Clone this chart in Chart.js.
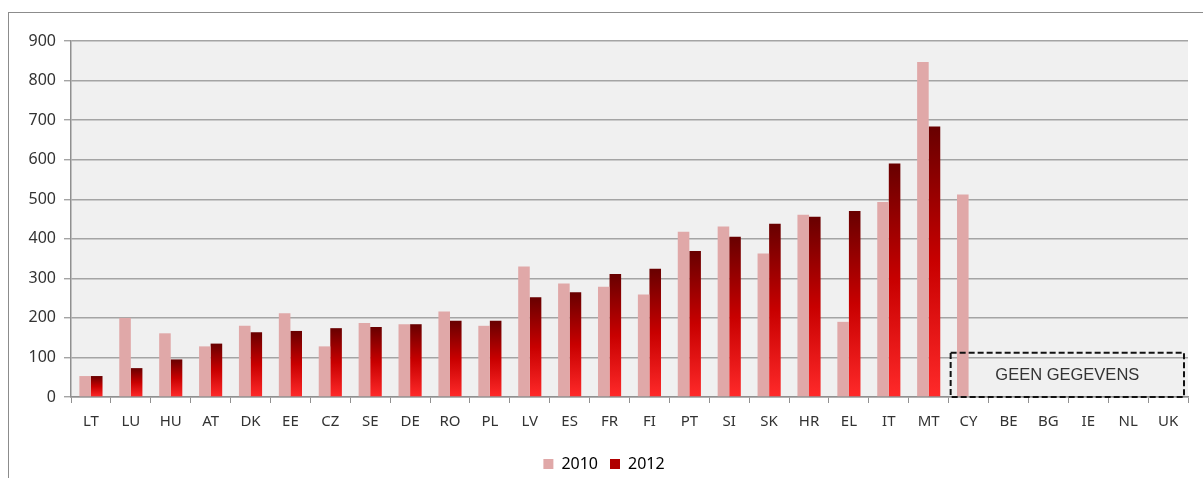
<!DOCTYPE html>
<html>
<head>
<meta charset="utf-8">
<script src="https://cdn.jsdelivr.net/npm/chart.js@4.4.1/dist/chart.umd.min.js"></script>
<style>
  html, body { margin: 0; padding: 0; background: #fff; }
  #wrap { position: relative; width: 1203px; height: 478px; }
  #frame { position: absolute; left: 8px; top: 12px; width: 1300px; height: 600px; border: 1px solid #8c8c8c; box-sizing: border-box; pointer-events: none; }
  canvas { position: absolute; left: 0; top: 0; }
</style>
</head>
<body>
<div id="wrap">
  <div id="frame"></div>
  <canvas id="chart" width="1203" height="478"></canvas>
</div>
<script>
// landen
const landen = ['LT', 'LU', 'HU', 'AT', 'DK', 'EE', 'CZ', 'SE', 'DE', 'RO', 'PL', 'LV', 'ES', 'FR',
    'FI', 'PT', 'SI', 'SK', 'HR', 'EL', 'IT', 'MT', 'CY', 'BE', 'BG', 'IE', 'NL', 'UK'];

const waarden2010 = [53, 200, 161, 128, 180, 212, 128, 187, 184, 216, 180, 330, 287, 279,
    259, 418, 431, 363, 461, 190, 493, 847, 512, null, null, null, null, null];
const waarden2012 = [53, 73, 95, 135, 164, 167, 174, 177, 184, 193, 193, 252, 265, 311,
    324, 369, 405, 438, 456, 470, 590, 684, null, null, null, null, null, null];

const yTicks = [0, 100, 200, 300, 400, 500, 600, 700, 800, 900];
const geenGegevensVanaf = 'CY';

const fontFam = '"Noto Sans", "Liberation Sans", sans-serif';

// verloop per staaf: donkerrood boven, helder rood onder
function barGradient(context) {
    const chart = context.chart;
    if (!chart.chartArea || context.raw == null) return '#c00000';
    const y = chart.scales.y;
    const top = y.getPixelForValue(context.raw);
    const bottom = y.getPixelForValue(0);
    if (!isFinite(top) || bottom - top < 1) return '#c00000';
    const g = chart.ctx.createLinearGradient(0, top, 0, bottom);
    g.addColorStop(0, '#680000');
    g.addColorStop(0.5, '#c80000');
    g.addColorStop(1, '#ff2a2a');
    return g;
}

// grijze achtergrond van het plotvlak
const plotBackground = {
    id: 'plotBackground',
    beforeDraw(chart) {
        const a = chart.chartArea;
        const ctx = chart.ctx;
        ctx.save();
        ctx.fillStyle = '#f0f0f0';
        ctx.fillRect(a.left, a.top, a.right - a.left, a.bottom - a.top);
        ctx.restore();
    }
};

// kader "GEEN GEGEVENS"
const geenGegevens = {
    id: 'geenGegevens',
    afterDatasetsDraw(chart) {
        const x = chart.scales.x;
        const y = chart.scales.y;
        const ctx = chart.ctx;
        const idx = landen.indexOf(geenGegevensVanaf);
        const half = (x.getPixelForValue(1) - x.getPixelForValue(0)) / 2;
        const left = x.getPixelForValue(idx) - half + 2;
        const right = chart.chartArea.right - 4;
        const top = y.getPixelForValue(112);
        const bottom = y.getPixelForValue(0);
        ctx.save();
        ctx.strokeStyle = '#111';
        ctx.lineWidth = 2;
        ctx.setLineDash([6, 3]);
        ctx.strokeRect(left, top, right - left, bottom - top);
        ctx.setLineDash([]);
        ctx.fillStyle = '#333';
        ctx.font = '16.5px "Liberation Sans", Arial, sans-serif';
        ctx.textAlign = 'center';
        ctx.textBaseline = 'middle';
        ctx.fillText('GEEN GEGEVENS', (left + right) / 2, (top + bottom) / 2 + 1);
        ctx.restore();
    }
};

document.addEventListener('DOMContentLoaded', function() {
    const ctx = document.getElementById('chart').getContext('2d');
    new Chart(ctx, {
        type: 'bar',
        data: {
            labels: landen,
            datasets: [
                {
                    label: '2010',
                    data: waarden2010,
                    backgroundColor: '#e0a8a8',
                    categoryPercentage: 0.58,
                    barPercentage: 1.0
                },
                {
                    label: '2012',
                    data: waarden2012,
                    backgroundColor: barGradient,
                    categoryPercentage: 0.58,
                    barPercentage: 1.0
                }
            ]
        },
        options: {
            responsive: false,
            animation: false,
            layout: { padding: { left: 20, top: 41, right: 15, bottom: -4 } },
            plugins: {
                legend: {
                    position: 'bottom',
                    labels: {
                        boxWidth: 10,
                        boxHeight: 10,
                        padding: 12,
                        color: '#333',
                        font: { family: fontFam, size: 16 },
                        generateLabels(chart) {
                            return chart.data.datasets.map((ds, i) => ({
                                text: ds.label,
                                fillStyle: i === 0 ? '#e0a8a8' : '#b00000',
                                strokeStyle: 'transparent',
                                lineWidth: 0,
                                datasetIndex: i
                            }));
                        }
                    }
                },
                tooltip: { enabled: false }
            },
            scales: {
                x: {
                    afterFit(scale) {
                        scale.height = 47;
                    },
                    grid: {
                        offset: true,
                        drawOnChartArea: false,
                        drawTicks: true,
                        tickLength: 6,
                        color: '#909090'
                    },
                    border: { color: '#909090', width: 1.5 },
                    ticks: {
                        color: '#333',
                        padding: 10,
                        maxRotation: 0,
                        autoSkip: false,
                        font: { family: fontFam, size: 15 }
                    }
                },
                y: {
                    min: 0,
                    max: 900,
                    afterFit(scale) {
                        scale.width = 51;
                    },
                    afterBuildTicks(scale) {
                        scale.ticks = yTicks.map(v => ({ value: v }));
                    },
                    grid: {
                        color: '#a4a4a4',
                        lineWidth: 1.4,
                        tickLength: 7
                    },
                    border: { color: '#909090', width: 1.5 },
                    ticks: {
                        color: '#333',
                        padding: 8,
                        font: { family: fontFam, size: 16 }
                    }
                }
            }
        },
        plugins: [plotBackground, geenGegevens]
    });
});
</script>
</body>
</html>
